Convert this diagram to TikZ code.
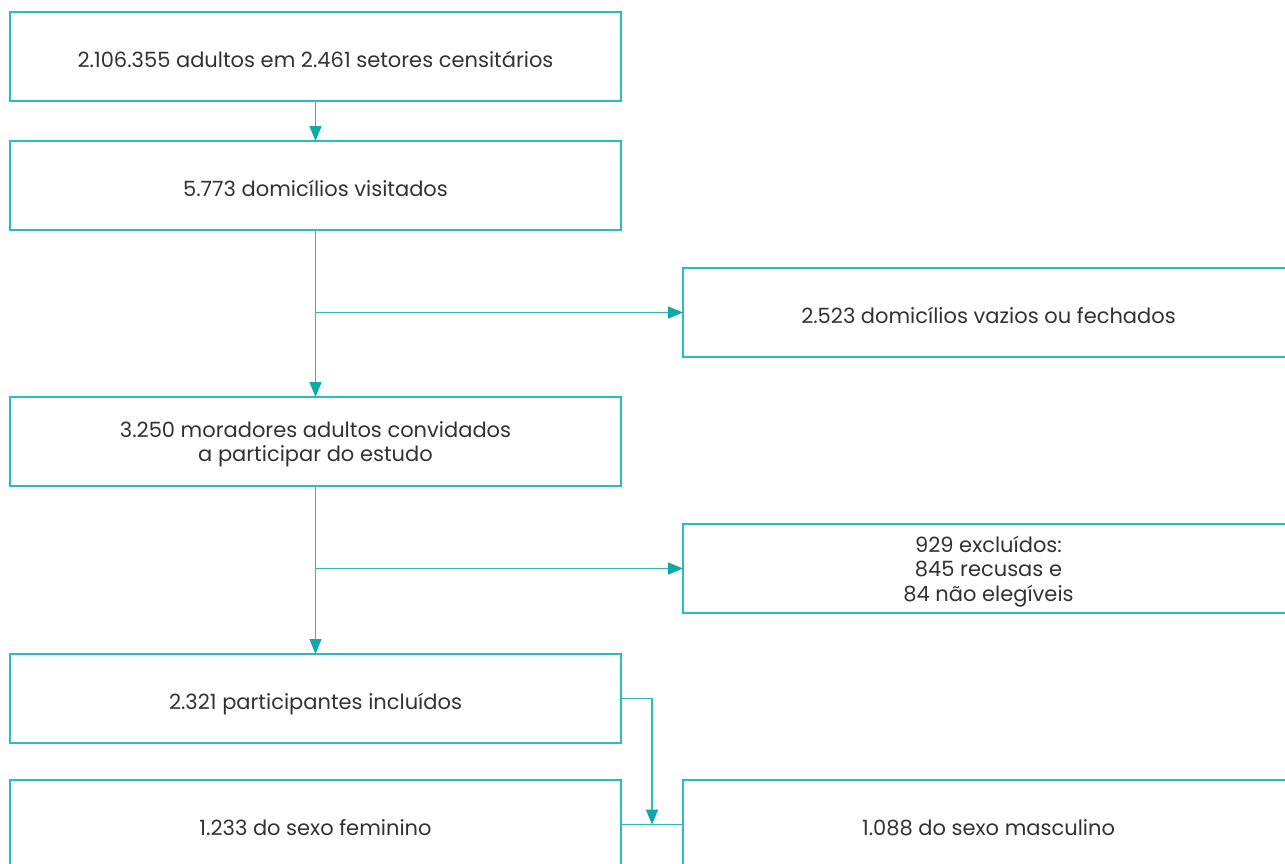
\documentclass[tikz,border=0pt]{standalone}
\usepackage{fontspec}
\setmainfont{Poppins}
\usetikzlibrary{positioning,arrows.meta}
\definecolor{flowteal}{RGB}{45,188,188}
\definecolor{flowtip}{RGB}{14,168,168}
\definecolor{flowtext}{RGB}{50,50,50}
% one text line, set a little below the middle of its box
\newcommand{\rowtext}[1]{\raisebox{0pt}[22pt][0pt]{#1}}

\begin{document}
\begin{tikzpicture}[node distance=40pt, every node/.style={align=center, font=\fontsize{21}{24.5}\selectfont, text=flowtext},
    stage/.style={rectangle, draw=flowteal, line width=1.4pt, text centered, text depth=-6pt, minimum height=89pt, minimum width=611pt, inner sep=0pt, outer sep=0pt},
    flow/.style={draw=flowteal, line width=1.4pt, -{Triangle[length=15pt,width=12pt,color=flowtip]}}]
				\useasboundingbox (0,0) rectangle (1285pt,-863pt);
				\clip (0,0) rectangle (1285pt,-863pt);
				% Nodes
				\node (adults) [stage] at (315.5pt,-56.5pt) {\rowtext{2.106.355 adultos em 2.461 setores censitários}};
				\node (visited) [stage, below=40pt of adults] {\rowtext{5.773 domicílios visitados}};
				\node (empty) [stage, anchor=north west, below right=38pt and 62pt of visited.south east] {\rowtext{2.523 domicílios vazios ou fechados}};
				\node (invited) [stage, below=167pt of visited] {3.250 moradores adultos convidados\\a participar do estudo};
				\node (excluded) [stage, anchor=north west, below right=38pt and 62pt of invited.south east] {929 excluídos:\\845 recusas e\\84 não elegíveis};
				\node (included) [stage, below=168pt of invited] {\rowtext{2.321 participantes incluídos}};
				\node (female) [stage, below=37pt of included] {\rowtext{1.233 do sexo feminino}};
				\node (male) [stage, right=62pt of female] {\rowtext{1.088 do sexo masculino}};

				% Arrows
				\draw[flow] (adults) -- (visited);
				\draw[flow] (visited) -- (invited);
				\draw[flow] (visited.south |- empty.west) -- (empty.west);
				\draw[flow] (invited) -- (included);
				\draw[flow] (invited.south |- excluded.west) -- (excluded.west);
				\draw[draw=flowteal, line width=1.4pt] (female.east) -- coordinate[midway] (split) (male.west);
				\draw[flow] (included.east) -| (split);
			\end{tikzpicture}
\end{document}
